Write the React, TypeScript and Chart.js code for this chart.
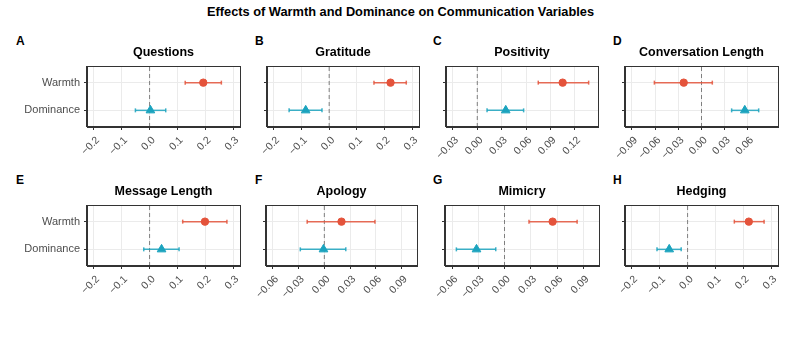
import React, { useEffect, useRef } from 'react';
import { Chart, registerables } from 'chart.js';
Chart.register(...registerables);

// ---------- data ----------
const MAIN_TITLE = 'Effects of Warmth and Dominance on Communication Variables';
const CATEGORIES = ['Dominance', 'Warmth']; // y = 1, 2
const PANEL_LETTERS = ['A', 'B', 'C', 'D', 'E', 'F', 'G', 'H'];
const PANEL_TITLES = ['Questions', 'Gratitude', 'Positivity', 'Conversation Length', 'Message Length', 'Apology', 'Mimicry', 'Hedging'];

const WARMTH_EST = [0.193, 0.222, 0.105, -0.023, 0.199, 0.020, 0.055, 0.220];
const WARMTH_LO = [0.128, 0.162, 0.075, -0.061, 0.119, -0.020, 0.028, 0.168];
const WARMTH_HI = [0.258, 0.279, 0.137, 0.014, 0.278, 0.059, 0.083, 0.275];

const DOM_EST = [0.003, -0.085, 0.035, 0.056, 0.043, -0.001, -0.032, -0.066];
const DOM_LO = [-0.051, -0.145, 0.012, 0.039, -0.021, -0.028, -0.055, -0.110];
const DOM_HI = [0.058, -0.026, 0.057, 0.074, 0.106, 0.025, -0.010, -0.023];

const REF_VALUE = 0;

const X_LIMITS: [number, number][] = [
  [-0.2, 0.3], [-0.2, 0.3], [-0.03, 0.14], [-0.09, 0.09],
  [-0.2, 0.3], [-0.06, 0.1], [-0.06, 0.1], [-0.2, 0.3],
];
const TICKS_01 = [-0.2, -0.1, 0, 0.1, 0.2, 0.3];
const TICKS_C = [-0.03, 0, 0.03, 0.06, 0.09, 0.12];
const TICKS_D = [-0.09, -0.06, -0.03, 0, 0.03, 0.06];
const TICKS_FG = [-0.06, -0.03, 0, 0.03, 0.06, 0.09];
const X_TICKS = [TICKS_01, TICKS_01, TICKS_C, TICKS_D, TICKS_01, TICKS_FG, TICKS_FG, TICKS_01];
const TICK_DECIMALS = [1, 1, 2, 2, 1, 2, 2, 1];

// ---------- layout / style ----------
const PLOT_LEFT = [87, 267, 446, 625, 87, 266, 445, 625];
const PLOT_RIGHT = [240, 419, 598, 778, 240, 417, 599, 778];
const ROW_TOP = [66, 205];
const LETTER_X = [16, 255, 433, 613, 16, 255, 433, 613];
const PLOT_H = 61;
const TITLE_H = 21;
const X_AXIS_H = 44;
const RIGHT_PAD = 12;

const RED = '#E4533B';
const RED_CI = 'rgba(228,83,59,0.85)';
const TEAL = '#1BA3BE';
const TEAL_CI = 'rgba(27,163,190,0.85)';
const FONT = "'Liberation Sans', Arial, Helvetica, sans-serif";

Chart.defaults.font.family = FONT;

const framePlugin = {
  id: 'frame',
  afterDraw(chart: any) {
    const { ctx, chartArea } = chart;
    ctx.save();
    ctx.strokeStyle = '#333333';
    ctx.lineWidth = 1;
    ctx.strokeRect(
      Math.round(chartArea.left) - 0.5,
      Math.round(chartArea.top) + 0.5,
      Math.round(chartArea.right - chartArea.left) + 1,
      Math.round(chartArea.bottom - chartArea.top) - 1
    );
    ctx.restore();
  },
};

function fmt(v: number, d: number) {
  const s = Math.abs(v).toFixed(d);
  return v < -1e-9 ? '\u2212' + s : s;
}

function Panel({ idx }: { idx: number }) {
  const ref = useRef<HTMLCanvasElement | null>(null);
  const showY = idx % 4 === 0;
  const row = idx < 4 ? 0 : 1;
  const plotLeft = PLOT_LEFT[idx];
  const plotW = PLOT_RIGHT[idx] - plotLeft;
  const yW = showY ? plotLeft : 26;
  const left = plotLeft - yW;
  const top = ROW_TOP[row] - TITLE_H;
  const width = yW + plotW + RIGHT_PAD;
  const height = TITLE_H + PLOT_H + X_AXIS_H;

  useEffect(() => {
    if (!ref.current) return;
    const [l0, l1] = X_LIMITS[idx];
    const ex = (l1 - l0) * 0.05;
    const chart = new Chart(ref.current, {
      type: 'scatter',
      data: {
        datasets: [
          {
            data: [{ x: WARMTH_EST[idx], y: 2 }],
            pointStyle: 'circle',
            pointRadius: 3.7,
            backgroundColor: RED,
            borderColor: RED,
            borderWidth: 1,
          },
          {
            data: [{ x: DOM_EST[idx], y: 1 }],
            pointStyle: 'triangle',
            pointRadius: 5,
            backgroundColor: TEAL,
            borderColor: TEAL,
            borderWidth: 1,
          },
          {
            data: [{ x: WARMTH_LO[idx], y: 2 }, { x: WARMTH_HI[idx], y: 2 }],
            showLine: true,
            borderColor: RED_CI,
            borderWidth: 1.5,
            pointStyle: 'line',
            rotation: 90,
            pointRadius: 2,
            pointBorderWidth: 1.5,
            pointBorderColor: RED_CI,
          },
          {
            data: [{ x: DOM_LO[idx], y: 1 }, { x: DOM_HI[idx], y: 1 }],
            showLine: true,
            borderColor: TEAL_CI,
            borderWidth: 1.5,
            pointStyle: 'line',
            rotation: 90,
            pointRadius: 2,
            pointBorderWidth: 1.5,
            pointBorderColor: TEAL_CI,
          },
          {
            data: [{ x: REF_VALUE, y: 0.4 }, { x: REF_VALUE, y: 2.6 }],
            showLine: true,
            borderColor: '#7F7F7F',
            borderWidth: 1,
            borderDash: [4, 3],
            pointRadius: 0,
          },
        ],
      } as any,
      options: {
        responsive: false,
        animation: false,
        devicePixelRatio: 1,
        layout: { padding: { left: 0, top: 0, right: RIGHT_PAD, bottom: 0 } },
        plugins: {
          legend: { display: false },
          tooltip: { enabled: false },
          title: {
            display: true,
            text: PANEL_TITLES[idx],
            color: '#000000',
            font: { size: 12.5, weight: 'bold', family: FONT, lineHeight: 1.2 },
            padding: { top: 0, bottom: 6 },
            fullSize: false,
          },
        },
        scales: {
          x: {
            type: 'linear',
            min: l0 - ex,
            max: l1 + ex,
            afterBuildTicks: (s: any) => {
              s.ticks = X_TICKS[idx].map((v) => ({ value: v }));
            },
            afterFit: (s: any) => {
              s.height = X_AXIS_H;
            },
            ticks: {
              autoSkip: false,
              minRotation: 45,
              maxRotation: 45,
              padding: 4,
              labelOffset: 4,
              color: '#4D4D4D',
              font: { size: 10.5, family: FONT },
              callback: (v: any) => fmt(Number(v), TICK_DECIMALS[idx]),
            },
            grid: { color: '#EBEBEB', lineWidth: 1, tickColor: '#333333', tickLength: 3 },
            border: { display: true, color: '#333333', width: 1 },
          },
          y: {
            type: 'linear',
            min: 0.4,
            max: 2.6,
            afterBuildTicks: (s: any) => {
              s.ticks = CATEGORIES.map((_, i) => ({ value: i + 1 }));
            },
            afterFit: (s: any) => {
              s.width = yW;
            },
            ticks: {
              padding: 4,
              color: '#4D4D4D',
              font: { size: 11, family: FONT },
              callback: (v: any) => (showY ? CATEGORIES[Math.round(Number(v)) - 1] : ''),
            },
            grid: { color: '#EBEBEB', lineWidth: 1, tickColor: '#333333', tickLength: 3 },
            border: { display: true, color: '#333333', width: 1 },
          },
        },
      } as any,
      plugins: [framePlugin],
    });
    return () => chart.destroy();
  }, [idx]);

  return (
    <canvas
      ref={ref}
      width={width}
      height={height}
      style={{ position: 'absolute', left, top, width, height }}
    />
  );
}

export default function App() {
  return (
    <div style={{ position: 'absolute', left: 0, top: 0, width: 793, height: 337, background: '#ffffff', overflow: 'hidden', fontFamily: FONT }}>
      <div style={{ position: 'absolute', left: 207, top: 6, fontSize: 12.8, lineHeight: '12px', fontWeight: 'bold', color: '#000', whiteSpace: 'nowrap' }}>
        {MAIN_TITLE}
      </div>
      {PANEL_LETTERS.map((L, i) => (
        <div
          key={L}
          style={{ position: 'absolute', left: LETTER_X[i], top: (i < 4 ? 36 : 175.3), fontSize: 12, lineHeight: '11px', fontWeight: 'bold', color: '#000' }}
        >
          {L}
        </div>
      ))}
      {PANEL_TITLES.map((t, i) => (
        <Panel key={t} idx={i} />
      ))}
    </div>
  );
}
